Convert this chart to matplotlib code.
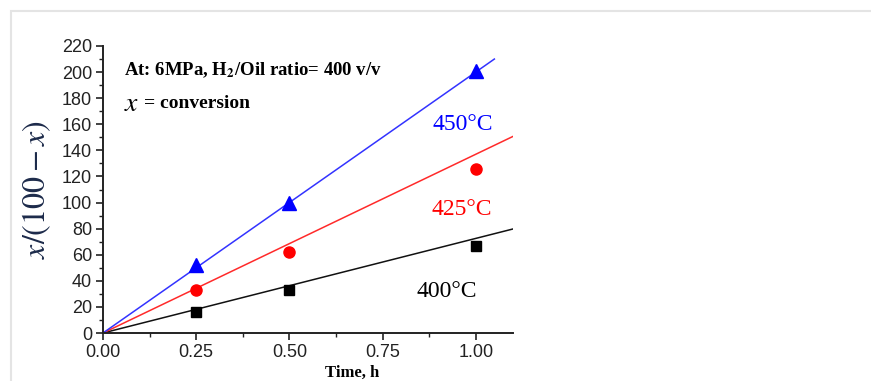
import numpy as np
import matplotlib
matplotlib.use("Agg")
import matplotlib.pyplot as plt
from matplotlib.patches import Rectangle
from matplotlib.ticker import MultipleLocator, FormatStrFormatter

# ================================
# Dados
# ================================

times = [0.25, 0.5, 1.0]
y_400 = [16, 33, 67]
y_425 = [33, 62, 126]
y_450 = [52, 100, 201]

# inclinações das retas ajustadas
slope_400 = 72.5
slope_425 = 137
slope_450 = 200

temp_labels = ["400°C", "425°C", "450°C"]

# ================================
# Figura
# ================================

plt.rcParams['mathtext.fontset'] = 'stix'

fig = plt.figure(figsize=(8.71, 3.81), dpi=100)
fig.patch.set_facecolor('white')

# moldura cinza clara (cartão)
fig.add_artist(Rectangle((11 / 871, -0.05), 1.0, 1 - 11 / 381 + 0.05,
                         transform=fig.transFigure, facecolor='none',
                         edgecolor='#e4e4e4', linewidth=1.5))

ax = fig.add_axes([103 / 871, 1 - 333 / 381, 410 / 871, 287 / 381])

# retas ajustadas
xfit = np.array([0, 1.1])
ax.plot(xfit, slope_400 * xfit, color='#111111', lw=1.1)
ax.plot(xfit, slope_425 * xfit, color='#ff2a2a', lw=1.1)
xfit_b = np.array([0, 1.05])
ax.plot(xfit_b, slope_450 * xfit_b, color='#3333ff', lw=1.1)

# pontos experimentais
ax.plot(times, y_400, 's', color='black', markersize=7.5)
ax.plot(times, y_425, 'o', color='#ff0000', markersize=8)
ax.plot(times, y_450, '^', color='#0000ff', markersize=10)

ax.set_xlim(0, 1.1)
ax.set_ylim(0, 220)
ax.xaxis.set_major_locator(MultipleLocator(0.25))
ax.xaxis.set_minor_locator(MultipleLocator(0.125))
ax.xaxis.set_major_formatter(FormatStrFormatter('%.2f'))
ax.yaxis.set_major_locator(MultipleLocator(20))
ax.yaxis.set_minor_locator(MultipleLocator(10))

for s in ['top', 'right']:
    ax.spines[s].set_visible(False)
for s in ['left', 'bottom']:
    ax.spines[s].set_linewidth(1.4)
    ax.spines[s].set_color('#222222')

ax.tick_params(which='major', direction='out', length=5, width=1.2,
               labelsize=13, colors='#222222', pad=3)
ax.tick_params(which='minor', direction='out', length=3, width=1.0,
               colors='#222222')
for lab in ax.get_xticklabels() + ax.get_yticklabels():
    lab.set_fontfamily('Liberation Sans')

ax.set_ylabel(r'$x/(100-x)$', fontsize=23, color='#1c2a4a', labelpad=6)
ax.set_xlabel('Time, h', fontfamily='Liberation Serif', fontweight='bold',
              fontsize=12)
ax.xaxis.set_label_coords((352 - 103) / 410, -0.11)

# anotações
ax.text(0.05, 0.915, r'At: 6MPa, H$_\mathbf{2}$/Oil ratio= 400 v/v',
        transform=ax.transAxes, fontfamily='Liberation Serif',
        fontweight='bold', fontsize=13.5, va='center', ha='left')
ax.text(0.05, 0.8, r'$x$', transform=ax.transAxes, fontsize=20,
        va='center', ha='left')
ax.text(0.1, 0.8, '= conversion', transform=ax.transAxes,
        fontfamily='Liberation Serif', fontweight='bold', fontsize=14,
        va='center', ha='left')

ax.text(0.878, 0.725, temp_labels[2], transform=ax.transAxes, color='#0000ff',
        fontfamily='Liberation Serif', fontsize=17, va='center', ha='center')
ax.text(0.876, 0.432, temp_labels[1], transform=ax.transAxes, color='#ff0000',
        fontfamily='Liberation Serif', fontsize=17, va='center', ha='center')
ax.text(0.839, 0.143, temp_labels[0], transform=ax.transAxes, color='black',
        fontfamily='Liberation Serif', fontsize=17, va='center', ha='center')

fig.savefig('out.png', dpi=100)
